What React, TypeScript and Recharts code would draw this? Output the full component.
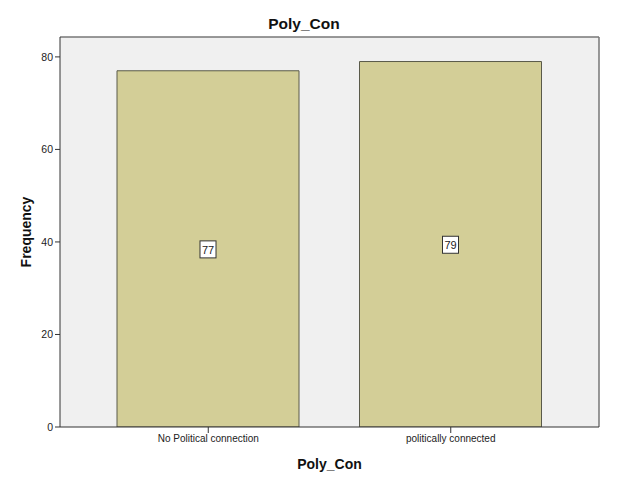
import { Bar, BarChart, CartesianGrid, LabelList, XAxis, YAxis } from "recharts";

const categories = ["No Political connection", "politically connected"];
const frequencies = [77, 79];
const yTicks = [0, 20, 40, 60, 80];

const data = categories.map((name, i) => ({ name, value: frequencies[i] }));

const FONT = "'Liberation Sans', Arial, sans-serif";

function ValueBox(props: any) {
  const { x, y, width, height, value } = props;
  const cx = x + width / 2;
  const cy = y + height / 2;
  return (
    <g>
      <rect x={cx - 8} y={cy - 8} width={16} height={17} fill="#fff" stroke="#333" strokeWidth={1} />
      <text x={cx} y={cy + 1} textAnchor="middle" dominantBaseline="central" fontSize={11} fill="#222" fontFamily={FONT}>
        {value}
      </text>
    </g>
  );
}

function YLabel(props: any) {
  const { viewBox } = props;
  const x = viewBox.x + 26;
  const y = viewBox.y + viewBox.height / 2;
  return (
    <text
      x={x}
      y={y}
      transform={`rotate(-90 ${x} ${y})`}
      textAnchor="middle"
      dominantBaseline="central"
      fontSize={14}
      fontWeight="bold"
      fontFamily={FONT}
      fill="#111"
    >
      Frequency
    </text>
  );
}

export default function App() {
  return (
    <div style={{ position: "absolute", left: 0, top: 0, width: 621, height: 501, background: "#fff", fontFamily: FONT }}>
      <div
        style={{
          position: "absolute",
          left: 0,
          width: 608,
          top: 15,
          textAlign: "center",
          fontSize: 15.5,
          fontWeight: "bold",
          color: "#111",
        }}
      >
        Poly_Con
      </div>
      <BarChart width={621} height={501} data={data} margin={{ top: 37, right: 22, left: 0, bottom: 0 }}>
        {/* plot frame: top and right edges */}
        <CartesianGrid
          fill="#F0F0F0"
          stroke="#777"
          strokeWidth={1.5}
          horizontalCoordinatesGenerator={({ offset }: any) => [offset.top]}
          verticalCoordinatesGenerator={({ offset }: any) => [offset.left + offset.width]}
        />
        <XAxis
          dataKey="name"
          height={74}
          padding={{ left: 27, right: 27 }}
          stroke="#333"
          tickSize={6}
          tick={{ fontSize: 10, fill: "#222", fontFamily: FONT }}
          label={{ value: "Poly_Con", position: "insideBottom", offset: 32, fontSize: 14, fontWeight: "bold", fill: "#111", fontFamily: FONT }}
        />
        <YAxis
          domain={[0, 84.3]}
          ticks={yTicks}
          width={60}
          stroke="#333"
          tickSize={5}
          tick={{ fontSize: 10.5, fill: "#222", fontFamily: FONT }}
          allowDataOverflow
          label={<YLabel />}
        />
        <Bar dataKey="value" fill="#D3CE97" stroke="#5a5a4a" strokeWidth={1} barSize={182} isAnimationActive={false}>
          <LabelList dataKey="value" content={<ValueBox />} />
        </Bar>
      </BarChart>
    </div>
  );
}
